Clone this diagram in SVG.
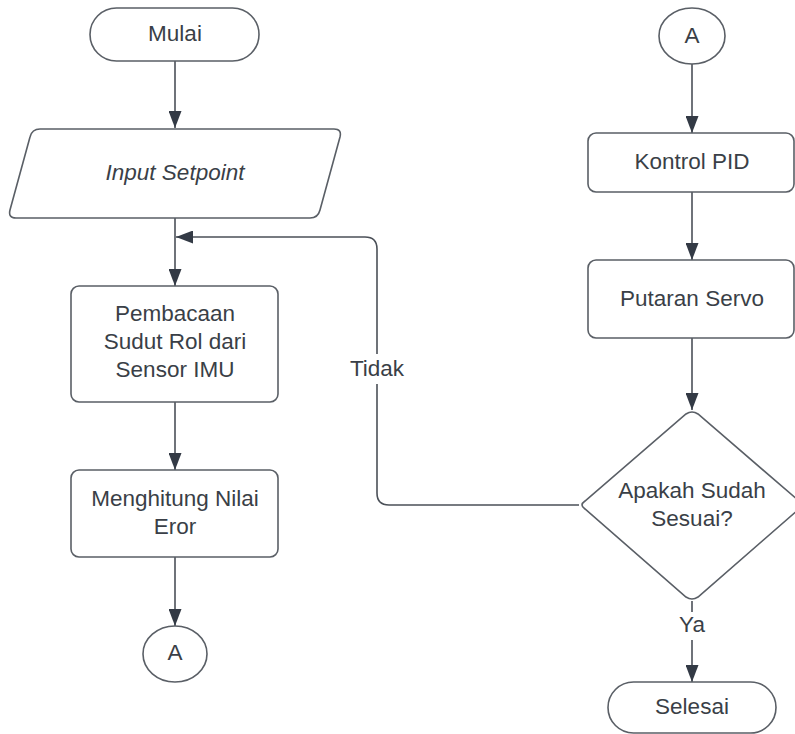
<svg xmlns="http://www.w3.org/2000/svg" width="795" height="734" viewBox="0 0 795 734">
<defs>
<marker id="ah" viewBox="0 0 17 13" refX="17" refY="6.5" markerWidth="17" markerHeight="13" markerUnits="userSpaceOnUse" orient="auto">
<path d="M0,0 L17,6.5 L0,13 Z" fill="#333a45"/>
</marker>
<style>
.s{fill:#fff;stroke:#5a5f66;stroke-width:1.6}
.c{fill:none;stroke:#4b5058;stroke-width:1.6}
.t{font-family:"Liberation Sans",Arial,sans-serif;font-size:22.5px;fill:#3a3f47;text-anchor:middle;dominant-baseline:central}
</style>
</defs>
<rect width="795" height="734" fill="#fff"/>
<g id="connectors">
<line class="c" x1="175" y1="61" x2="175" y2="128" marker-end="url(#ah)"/>
<line class="c" x1="175" y1="218" x2="175" y2="286" marker-end="url(#ah)"/>
<line class="c" x1="175" y1="402" x2="175" y2="470" marker-end="url(#ah)"/>
<line class="c" x1="175" y1="557" x2="175" y2="626" marker-end="url(#ah)"/>
<line class="c" x1="692" y1="64" x2="692" y2="133" marker-end="url(#ah)"/>
<line class="c" x1="692" y1="192" x2="692" y2="260" marker-end="url(#ah)"/>
<line class="c" x1="692" y1="338" x2="692" y2="410" marker-end="url(#ah)"/>
<path class="c" d="M579,505 H389 Q377,505 377,493 V249 Q377,237 365,237 H176" marker-end="url(#ah)"/>
<line class="c" x1="692" y1="601" x2="692" y2="682" marker-end="url(#ah)"/>
<rect x="347" y="354" width="60" height="30" fill="#fff"/>
<text class="t" x="377" y="368">Tidak</text>
<rect x="673" y="612" width="38" height="28" fill="#fff"/>
<text class="t" x="692" y="624">Ya</text>
</g>
<g id="mulai">
<rect class="s" x="90" y="8" width="169" height="53" rx="26.5"/>
<text class="t" x="175" y="33">Mulai</text>
</g>
<g id="input">
<path class="s" d="M40,129 H334 Q342,129 340,137 L320,210 Q318,218 310,218 H16 Q8,218 10,210 L30,137 Q32,129 40,129 Z"/>
<text class="t" x="175" y="172" font-style="italic">Input Setpoint</text>
</g>
<g id="pembacaan">
<rect class="s" x="71" y="286" width="207" height="116" rx="8"/>
<text class="t" x="175" y="313">Pembacaan</text>
<text class="t" x="175" y="341">Sudut Rol dari</text>
<text class="t" x="175" y="369">Sensor IMU</text>
</g>
<g id="menghitung">
<rect class="s" x="71" y="470" width="207" height="87" rx="8"/>
<text class="t" x="175" y="498">Menghitung Nilai</text>
<text class="t" x="175" y="526">Eror</text>
</g>
<g id="a-left">
<ellipse class="s" cx="175" cy="654" rx="32" ry="28"/>
<text class="t" x="175" y="652">A</text>
</g>
<g id="a-right">
<ellipse class="s" cx="692" cy="36" rx="33" ry="28"/>
<text class="t" x="692" y="35">A</text>
</g>
<g id="kontrol">
<rect class="s" x="588" y="133" width="206" height="59" rx="8"/>
<text class="t" x="692" y="161">Kontrol PID</text>
</g>
<g id="putaran">
<rect class="s" x="588" y="260" width="206" height="78" rx="8"/>
<text class="t" x="692" y="298">Putaran Servo</text>
</g>
<g id="keputusan">
<path class="s" d="M686,414 Q692,410 698,414 L799,501 Q805,505 799,509 L698,597 Q692,601 686,597 L585,509 Q579,505 585,501 Z"/>
<text class="t" x="692" y="490">Apakah Sudah</text>
<text class="t" x="692" y="518">Sesuai?</text>
</g>
<g id="selesai">
<rect class="s" x="608" y="682" width="168" height="51" rx="25.5"/>
<text class="t" x="692" y="706">Selesai</text>
</g>
</svg>
